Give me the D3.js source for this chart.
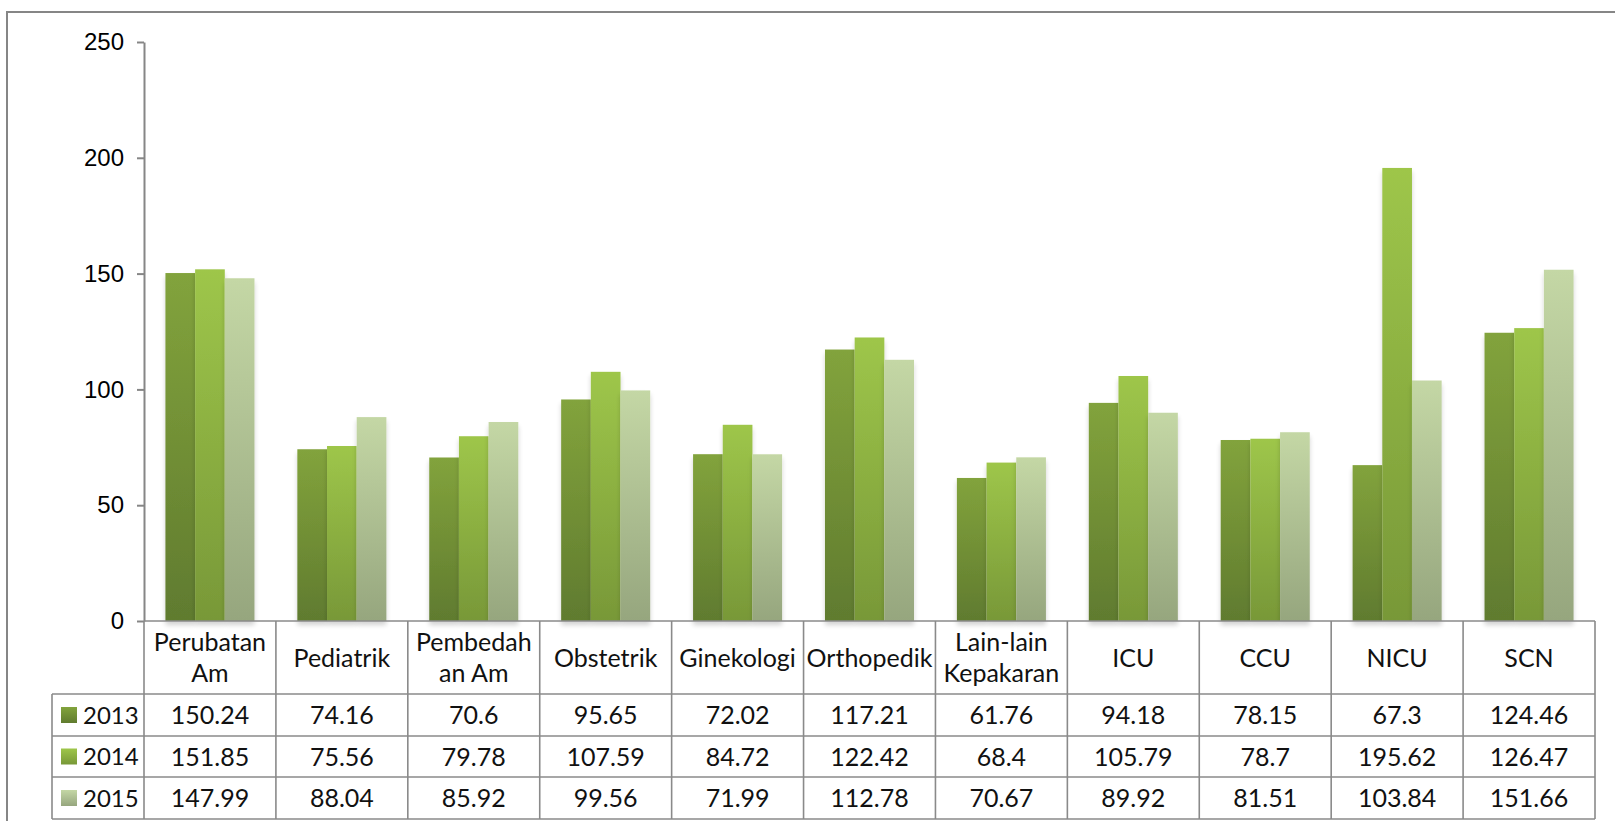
<!DOCTYPE html>
<html>
<head>
<meta charset="utf-8">
<script src="https://cdn.jsdelivr.net/npm/d3@7"></script>
<style>
  body { margin: 0; background: #fff; }
  svg { display: block; }
</style>
</head>
<body>
<div id="chart"></div>
<script>
// data
var categories = ["Perubatan\nAm", "Pediatrik", "Pembedah\nan Am", "Obstetrik", "Ginekologi",
  "Orthopedik", "Lain-lain\nKepakaran", "ICU", "CCU", "NICU", "SCN"];
var years = ["2013", "2014", "2015"];
var values2013 = [150.24, 74.16, 70.6, 95.65, 72.02, 117.21, 61.76, 94.18, 78.15, 67.3, 124.46];
var values2014 = [151.85, 75.56, 79.78, 107.59, 84.72, 122.42, 68.4, 105.79, 78.7, 195.62, 126.47];
var values2015 = [147.99, 88.04, 85.92, 99.56, 71.99, 112.78, 70.67, 89.92, 81.51, 103.84, 151.66];
var yTicks = [0, 50, 100, 150, 200, 250];

var series = [values2013, values2014, values2015];
// gradient colours per series (top, bottom)
var colours = [["#82a33c", "#607b2f"], ["#9ec64a", "#789838"], ["#c4d7a5", "#96a67e"]];

var W = 1615, H = 821;
var plotLeft = 144, plotRight = 1595, plotTop = 42, plotBase = 621;
var rowY = [621, 694, 736, 777, 819];
var legendX = 52;

var svg = d3.select("#chart").append("svg").attr("width", W).attr("height", H);
var defs = svg.append("defs");

colours.forEach(function(c, i) {
  var g = defs.append("linearGradient").attr("id", "grad" + i)
    .attr("x1", 0).attr("y1", 0).attr("x2", 0).attr("y2", 1);
  g.append("stop").attr("offset", "0%").attr("stop-color", c[0]);
  g.append("stop").attr("offset", "100%").attr("stop-color", c[1]);
});

var f = defs.append("filter").attr("id", "shadow")
  .attr("x", "-30%").attr("y", "-10%").attr("width", "160%").attr("height", "120%");
f.append("feGaussianBlur").attr("in", "SourceAlpha").attr("stdDeviation", 2.5).attr("result", "b");
f.append("feOffset").attr("in", "b").attr("dx", 0).attr("dy", 4).attr("result", "o");
f.append("feComponentTransfer").attr("in", "o").attr("result", "s")
  .append("feFuncA").attr("type", "linear").attr("slope", 0.18);
var m = f.append("feMerge");
m.append("feMergeNode").attr("in", "s");
m.append("feMergeNode").attr("in", "SourceGraphic");

// outer frame (runs past the right and bottom edges)
svg.append("rect").attr("x", 7).attr("y", 12).attr("width", W).attr("height", H)
  .attr("fill", "none").attr("stroke", "#868686").attr("stroke-width", 2);

// scales
var x = d3.scaleBand().domain(d3.range(categories.length)).range([plotLeft, plotRight]).padding(0);
var groupW = x.bandwidth() * 0.675;
var xi = d3.scaleBand().domain(d3.range(years.length)).range([0, groupW]).padding(0);
var y = d3.scaleLinear().domain([0, 250]).range([plotBase, plotTop]);

// bars
var bars = svg.append("g");
series.forEach(function(vals, si) {
  bars.selectAll(null).data(vals).enter().append("rect")
    .attr("x", function(d, i) { return x(i) + (x.bandwidth() - groupW) / 2 + xi(si); })
    .attr("y", function(d) { return y(d); })
    .attr("width", xi.bandwidth())
    .attr("height", function(d) { return y(0) - y(d); })
    .attr("fill", "url(#grad" + si + ")")
    .attr("filter", "url(#shadow)");
});

// y axis
var yAxis = svg.append("g").attr("transform", "translate(" + plotLeft + ",0)")
  .call(d3.axisLeft(y).tickValues(yTicks).tickSize(7).tickPadding(13).tickSizeOuter(0));
yAxis.select(".domain").attr("stroke", "#868686").attr("stroke-width", 2);
yAxis.selectAll(".tick line").attr("stroke", "#868686").attr("stroke-width", 2);
yAxis.selectAll(".tick text").attr("font-family", "Liberation Sans, Arial, sans-serif")
  .attr("font-size", 24).attr("fill", "#000");

// data table
var grid = svg.append("g").attr("stroke", "#8a8a8a").attr("stroke-width", 1.6).attr("fill", "none");
rowY.forEach(function(ry, i) {
  grid.append("line").attr("x1", i === 0 ? plotLeft : legendX).attr("x2", plotRight)
    .attr("y1", ry).attr("y2", ry);
});
d3.range(categories.length + 1).forEach(function(i) {
  var xx = i < categories.length ? x(i) : plotRight;
  grid.append("line").attr("x1", xx).attr("x2", xx).attr("y1", rowY[0]).attr("y2", rowY[4]);
});
grid.append("line").attr("x1", legendX).attr("x2", legendX).attr("y1", rowY[1]).attr("y2", rowY[4]);

var tfont = "Lato, 'Open Sans', sans-serif";
var txt = svg.append("g").attr("font-family", tfont).attr("font-size", 25).attr("fill", "#111")
  .attr("text-anchor", "middle");

// header labels
categories.forEach(function(c, i) {
  var lines = c.split("\n");
  var cy = (rowY[0] + rowY[1]) / 2;
  var t = txt.append("text").attr("x", x(i) + x.bandwidth() / 2);
  lines.forEach(function(l, li) {
    t.append("tspan").attr("x", x(i) + x.bandwidth() / 2)
      .attr("y", cy + (li - (lines.length - 1) / 2) * 31)
      .attr("dy", "0.36em").text(l);
  });
});

// rows
series.forEach(function(vals, si) {
  var cy = (rowY[si + 1] + rowY[si + 2]) / 2;
  vals.forEach(function(v, i) {
    txt.append("text").attr("x", x(i) + x.bandwidth() / 2).attr("y", cy).attr("dy", "0.36em")
      .text(String(v));
  });
  svg.append("rect").attr("x", 61).attr("y", cy - 8).attr("width", 16).attr("height", 16)
    .attr("fill", "url(#grad" + si + ")");
  txt.append("text").attr("x", 83).attr("y", cy).attr("dy", "0.36em")
    .attr("text-anchor", "start").attr("font-size", 24).text(years[si]);
});
</script>
</body>
</html>
